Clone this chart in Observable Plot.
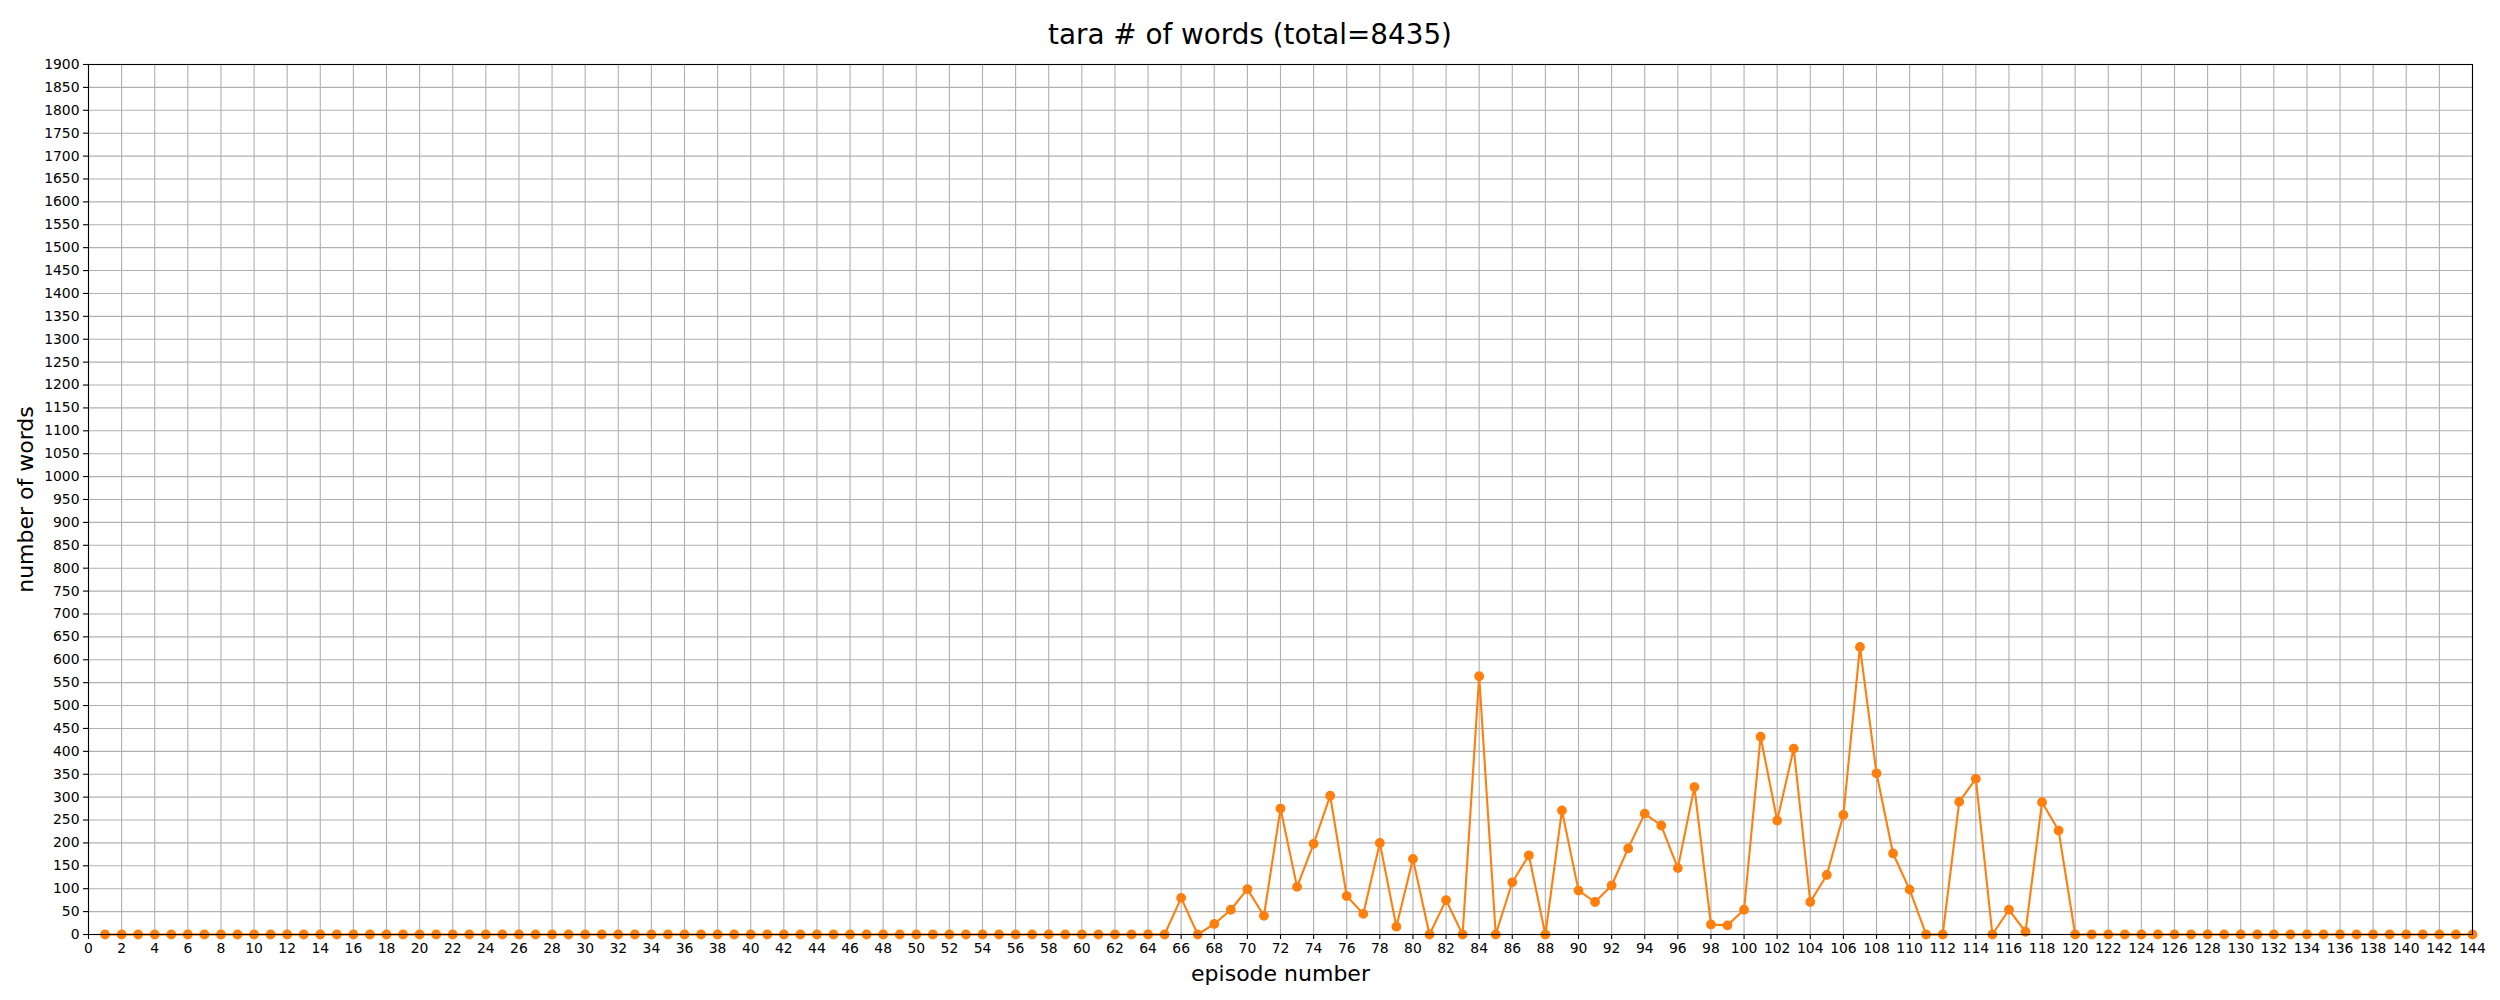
<!DOCTYPE html>
<html>
<head>
<meta charset="utf-8">
<script src="https://cdn.jsdelivr.net/npm/d3@7"></script>
<script src="https://cdn.jsdelivr.net/npm/@observablehq/plot@0.6"></script>
<style>
  body { margin: 0; background: #fff; font-family: "DejaVu Sans", sans-serif; }
  #wrap { position: relative; width: 2500px; height: 1000px; }
  #title {
    position: absolute; left: 0; top: 18px; width: 2500px;
    text-align: center; font-size: 27.8px; color: #000;
  }
</style>
</head>
<body>
<div id="wrap">
  <div id="title">tara # of words (total=8435)</div>
  <div id="chart"></div>
</div>
<script>
// words per episode, episodes 1..144
const words = [
  0, 0, 0, 0, 0, 0, 0, 0, 0, 0, // 1-10
  0, 0, 0, 0, 0, 0, 0, 0, 0, 0, // 11-20
  0, 0, 0, 0, 0, 0, 0, 0, 0, 0, // 21-30
  0, 0, 0, 0, 0, 0, 0, 0, 0, 0, // 31-40
  0, 0, 0, 0, 0, 0, 0, 0, 0, 0, // 41-50
  0, 0, 0, 0, 0, 0, 0, 0, 0, 0, // 51-60
  0, 0, 0, 0, 0, 80, 0, 23, 54, 99, // 61-70
  41, 275, 104, 198, 303, 84, 45, 200, 17, 165, // 71-80
  0, 75, 0, 564, 0, 114, 173, 0, 271, 96, // 81-90
  71, 107, 188, 264, 238, 145, 322, 22, 20, 54, // 91-100
  432, 249, 406, 71, 130, 261, 628, 352, 177, 98, // 101-110
  0, 0, 290, 340, 0, 54, 6, 289, 227, 0, // 111-120
  0, 0, 0, 0, 0, 0, 0, 0, 0, 0, // 121-130
  0, 0, 0, 0, 0, 0, 0, 0, 0, 0, // 131-140
  0, 0, 0, 0 // 141-144
];
const episodes = words.map((_, i) => i + 1);
const xTicks = d3.range(0, 145, 2);
const yTicks = d3.range(0, 1901, 50);

const data = episodes.map((e, i) => ({ episode: e, words: words[i] }));

const orange = "#ff7f0e";
const gridColor = "#b0b0b0";

const plt = Plot.plot({
  width: 2500,
  height: 1000,
  marginTop: 64,
  marginLeft: 88,
  marginRight: 28,
  marginBottom: 66,
  style: { fontFamily: "DejaVu Sans", background: "#fff", color: "#000" },
  x: { domain: [0, 144] },
  y: { domain: [0, 1900] },
  marks: [
    Plot.gridX(xTicks, { stroke: gridColor, strokeOpacity: 1, strokeWidth: 1.1 }),
    Plot.gridY(yTicks, { stroke: gridColor, strokeOpacity: 1, strokeWidth: 1.1 }),
    Plot.axisX(xTicks, {
      tickSize: 5, tickPadding: 4, fontSize: 13.9, label: null, strokeWidth: 1.1,
      tickFormat: d3.format("d")
    }),
    Plot.axisY(yTicks, {
      tickSize: 5, tickPadding: 4, fontSize: 13.9, label: null, strokeWidth: 1.1,
      tickFormat: d3.format("d")
    }),
    Plot.line(data, { x: "episode", y: "words", stroke: orange, strokeWidth: 2.1 }),
    Plot.dot(data, {
      x: "episode", y: "words", fill: orange, stroke: orange, strokeWidth: 1.4, r: 4.2
    }),
    Plot.frame({ stroke: "#000", strokeWidth: 1.1 }),
    Plot.text(["episode number"], {
      frameAnchor: "bottom", dy: 39, fontSize: 22, lineAnchor: "middle"
    }),
    Plot.text(["number of words"], {
      frameAnchor: "left", dx: -63, rotate: -90, fontSize: 22,
      lineAnchor: "middle", textAnchor: "middle"
    })
  ]
});

document.querySelector("#chart").append(plt);
</script>
</body>
</html>
